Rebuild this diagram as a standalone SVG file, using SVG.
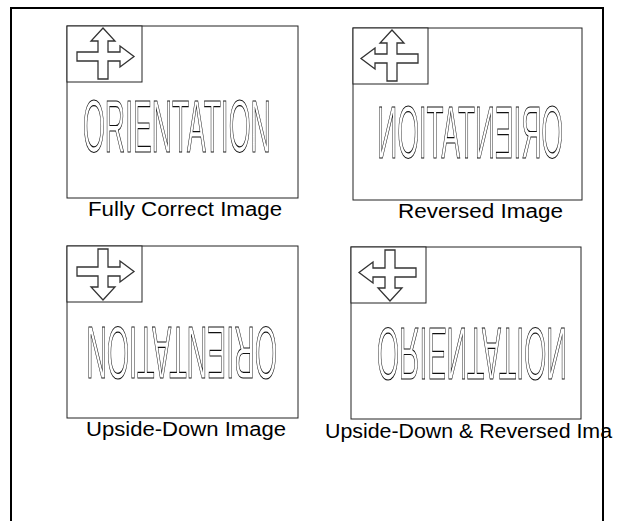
<svg xmlns="http://www.w3.org/2000/svg" width="639" height="521" viewBox="0 0 639 521">
<defs>
<style>
.frame{fill:none;stroke:#000;stroke-width:2}
.box{fill:#fff;stroke:#222;stroke-width:1}
.arrow{fill:#fff;stroke:#333;stroke-width:1.3;stroke-linejoin:miter}
.orient{font-family:"Liberation Sans",Arial,sans-serif;font-size:75px;fill:#fff;stroke:#111;stroke-width:0.9;vector-effect:non-scaling-stroke}
.label{font-family:"Liberation Sans",Arial,sans-serif;font-size:20px;fill:#000}
</style>
<filter id="gray" x="-0.05" y="-0.1" width="1.1" height="1.2"><feOffset dx="0" dy="0"/></filter>
<path id="arr" class="arrow" d="M36,2 L48,15 L41,15 L41,26 L53,26 L53,20 L67,30.5 L53,41 L53,35 L41,35 L41,53 L31,53 L31,35 L10,35 L10,26 L31,26 L31,15 L24,15 Z"/>
</defs>
<rect class="frame" x="11" y="8" width="592" height="530"/>

<g id="fully-correct">
<rect class="box" x="67" y="26" width="231" height="172"/>
<rect class="box" x="67" y="26" width="75" height="56"/>
<use href="#arr" transform="translate(67,26)"/>
<g filter="url(#gray)"><text class="orient" x="0" y="0" transform="translate(83,152) scale(0.3746,1)">ORIENTATION</text></g>
<text class="label" x="88" y="216" textLength="194" lengthAdjust="spacingAndGlyphs">Fully Correct Image</text>
</g>

<g id="reversed">
<rect class="box" x="353" y="28" width="229" height="172"/>
<rect class="box" x="353" y="28" width="75" height="56"/>
<use href="#arr" transform="translate(428,28) scale(-1,1)"/>
<g filter="url(#gray)"><text class="orient" x="0" y="0" transform="translate(563,158) scale(-0.3707,1)">ORIENTATION</text></g>
<text class="label" x="398" y="218" textLength="165" lengthAdjust="spacingAndGlyphs">Reversed Image</text>
</g>

<g id="upside-down">
<rect class="box" x="67" y="246" width="231" height="172"/>
<rect class="box" x="67" y="246" width="75" height="56"/>
<use href="#arr" transform="translate(67,302) scale(1,-1)"/>
<g filter="url(#gray)"><text class="orient" x="0" y="0" transform="translate(277,327) scale(-0.3804,-1)">ORIENTATION</text></g>
<text class="label" x="86" y="436" textLength="200" lengthAdjust="spacingAndGlyphs">Upside-Down Image</text>
</g>

<g id="upside-down-reversed">
<rect class="box" x="351" y="247" width="230" height="172"/>
<rect class="box" x="351" y="247" width="75" height="56"/>
<use href="#arr" transform="translate(426,303) scale(-1,-1)"/>
<g filter="url(#gray)"><text class="orient" x="0" y="0" transform="translate(377,328) scale(0.3785,-1)">ORIENTATION</text></g>
<text class="label" x="325" y="438" textLength="287" lengthAdjust="spacingAndGlyphs">Upside-Down &amp; Reversed Ima</text>
</g>
</svg>
